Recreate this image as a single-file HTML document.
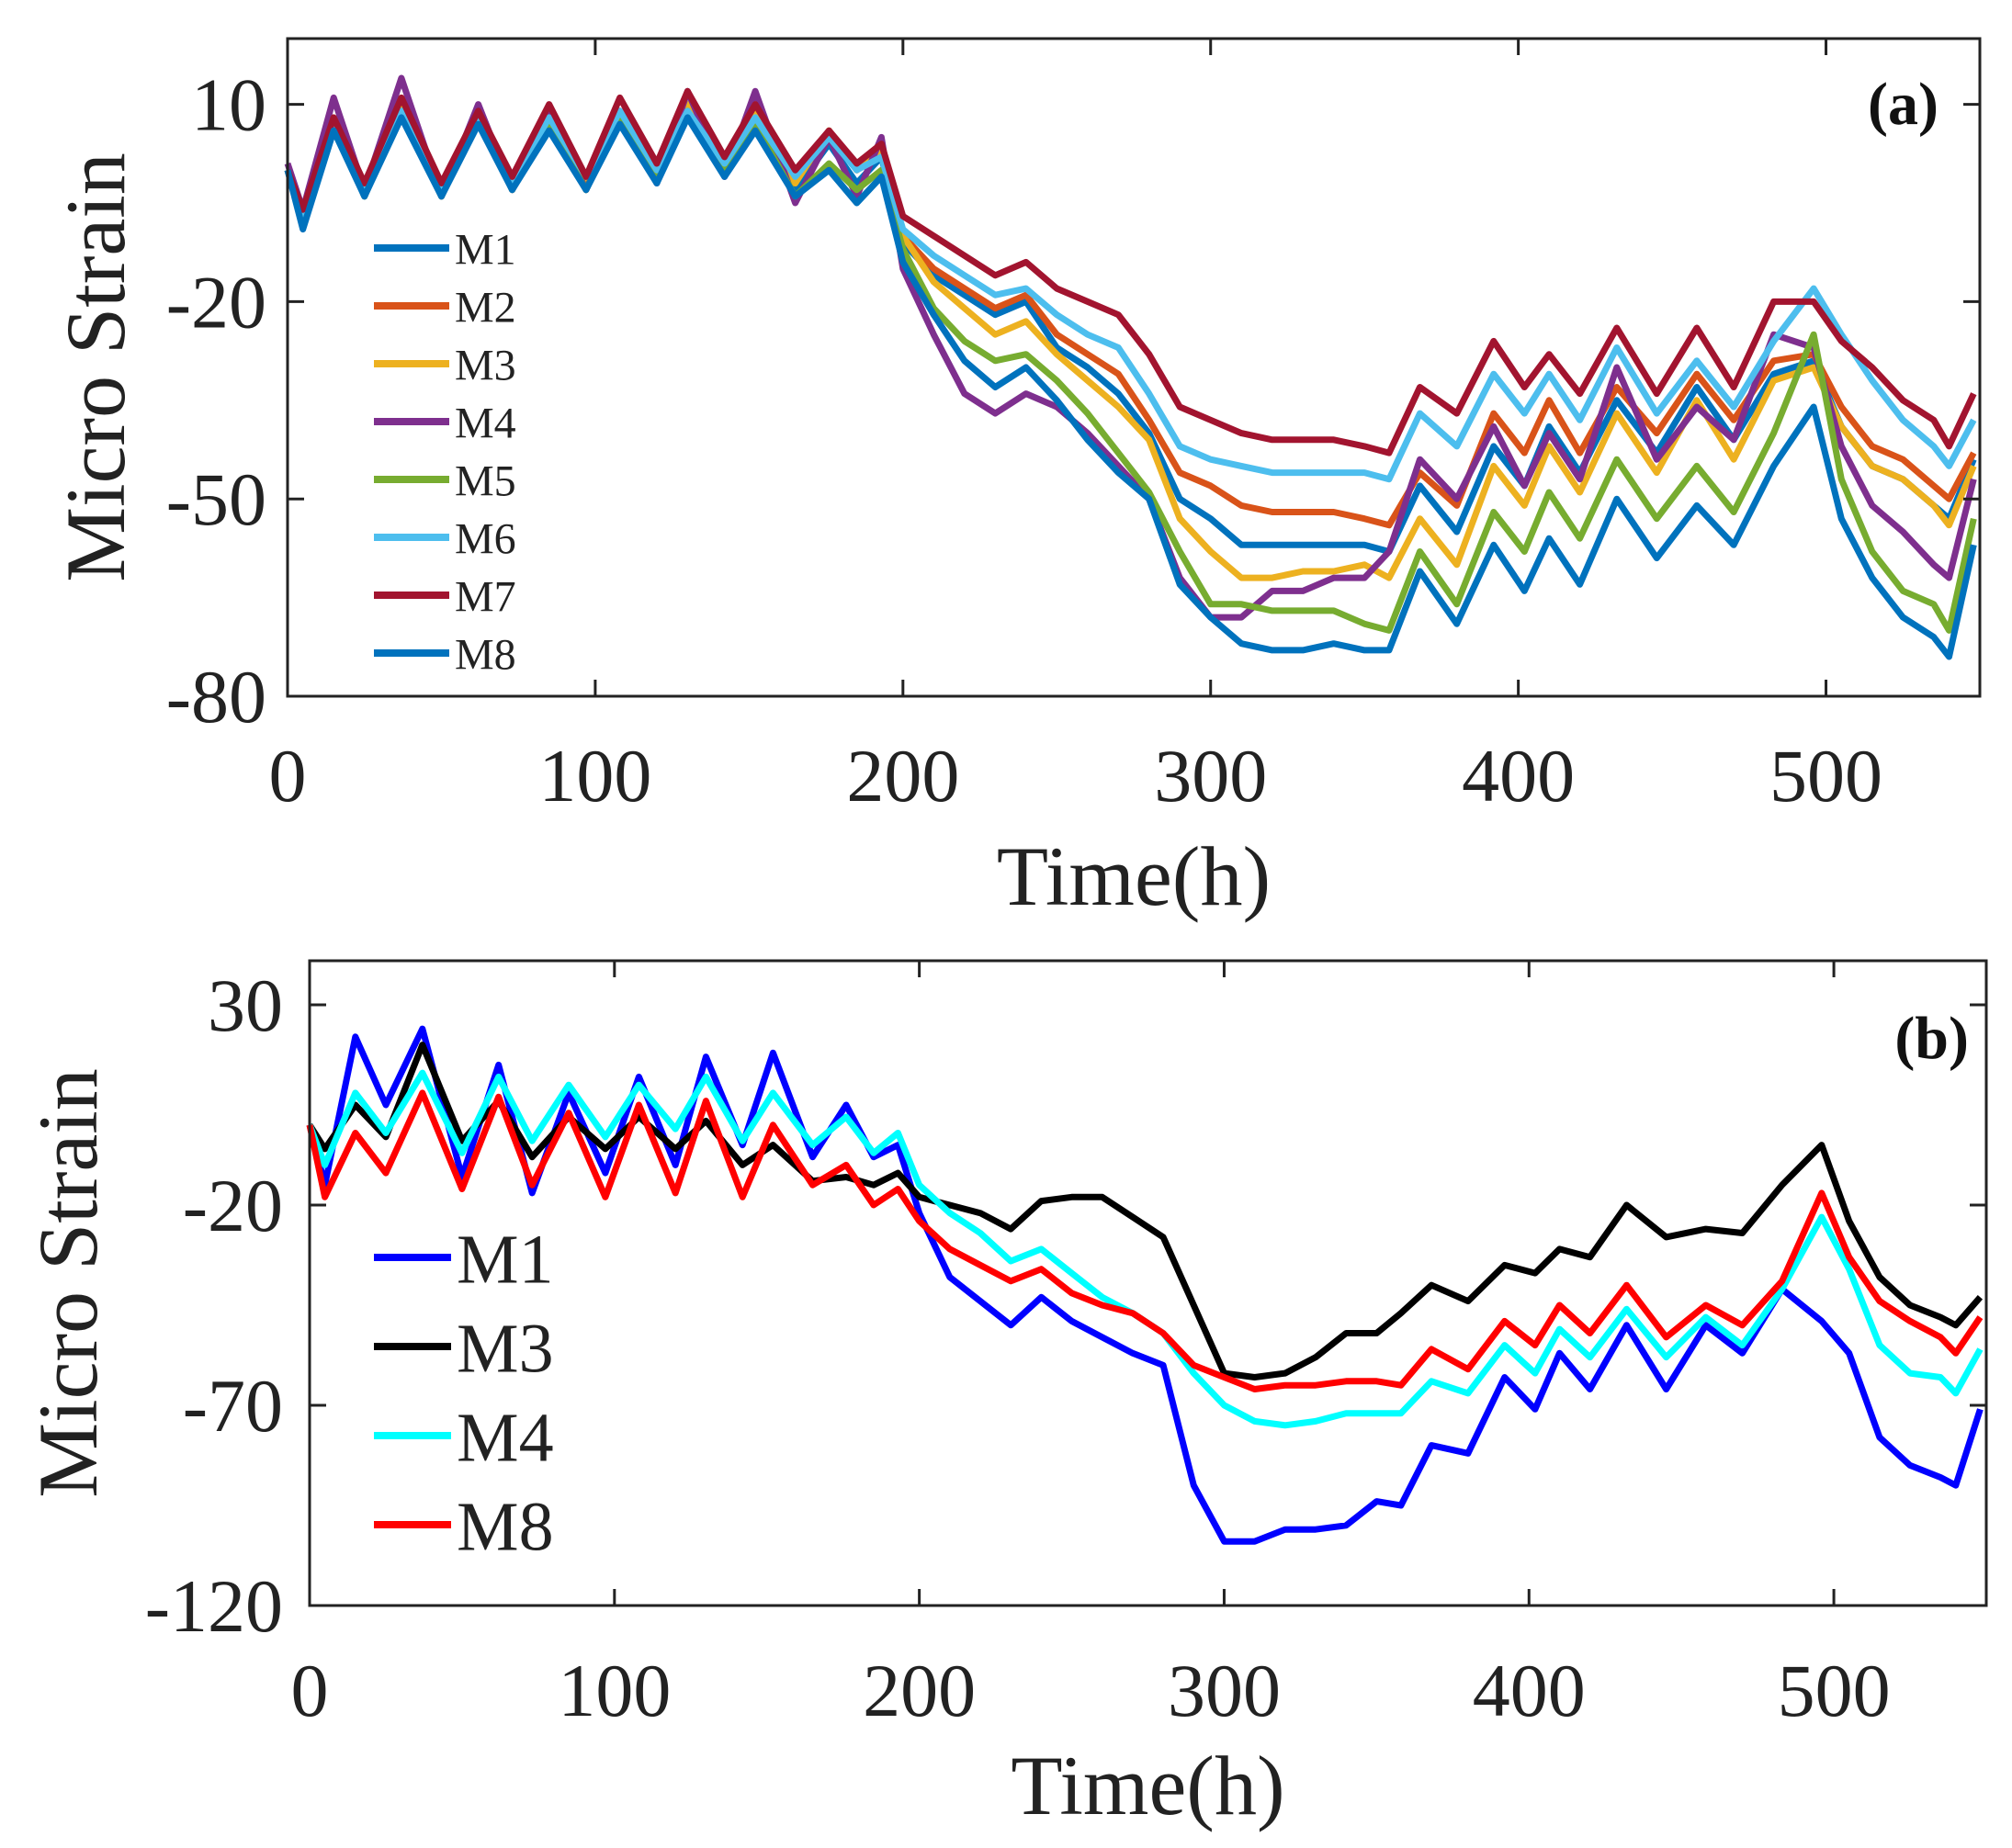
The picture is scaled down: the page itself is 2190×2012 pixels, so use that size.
<!DOCTYPE html>
<html><head><meta charset="utf-8">
<style>
html,body{margin:0;padding:0;background:#fff;}
svg{display:block;font-family:"Liberation Serif",serif;}
</style></head>
<body>
<svg id="chart" width="2190" height="2012" viewBox="0 0 2190 2012" xmlns="http://www.w3.org/2000/svg"></svg>
<script>
const times = [0,5,15,25,37,50,62,73,85,97,108,120,130,142,152,165,176,185,193,200,210,220,230,240,250,260,270,280,290,300,310,320,330,340,350,358,368,380,392,402,410,420,432,445,458,470,483,496,505,515,525,535,540,548];

// Panel (a) series
const aM1 = [0,-8,7,-4,9,-4,8,-3,7,-3,8,-1,9,0,7,-3,4,-2,2,-11,-16,-19,-22,-20,-27,-30,-34,-40,-50,-53,-57,-57,-57,-57,-57,-58,-48,-55,-42,-48,-39,-46,-35,-43,-33,-41,-31,-29,-39,-45,-47,-51,-53,-44];
const aM2 = [0,-7,7,-3,10,-3,8,-2,8,-2,9,0,10,1,9,-2,6,0,3,-10,-15,-18,-21,-19,-25,-28,-31,-38,-46,-48,-51,-52,-52,-52,-53,-54,-46,-51,-37,-43,-35,-43,-33,-40,-31,-38,-29,-28,-36,-42,-44,-48,-50,-43];
const aM3 = [0,-7,7,-3,10,-3,8,-2,8,-2,9,0,10,1,9,-2,6,0,3,-10,-17,-21,-25,-23,-28,-32,-36,-41,-53,-58,-62,-62,-61,-61,-60,-62,-53,-60,-45,-51,-42,-49,-37,-46,-35,-44,-32,-30,-39,-45,-47,-51,-54,-45];
const aM4 = [1,-6,11,-3,14,-4,10,-3,9,-3,9,-2,12,-1,12,-5,5,-4,5,-15,-25,-34,-37,-34,-36,-40,-45,-50,-62,-68,-68,-64,-64,-62,-62,-58,-44,-50,-39,-48,-40,-47,-30,-44,-36,-41,-25,-27,-42,-51,-55,-60,-62,-47];
const aM5 = [0,-8,7,-4,9,-4,8,-3,7,-3,8,-1,9,0,7,-4,1,-3,0,-12,-21,-26,-29,-28,-32,-37,-43,-49,-58,-66,-66,-67,-67,-67,-69,-70,-58,-66,-52,-58,-49,-56,-44,-53,-45,-52,-40,-25,-47,-58,-64,-66,-70,-53];
const aM6 = [0,-7,7,-3,9,-3,8,-2,8,-1,9,0,9,1,8,-1,5,0,2,-9,-13,-16,-19,-18,-22,-25,-27,-34,-42,-44,-45,-46,-46,-46,-46,-47,-37,-42,-31,-37,-31,-38,-27,-37,-29,-36,-26,-18,-25,-32,-38,-42,-45,-38];
const aM7 = [0,-6,8,-2,11,-2,9,-1,10,-1,11,1,12,2,10,0,6,1,4,-7,-10,-13,-16,-14,-18,-20,-22,-28,-36,-38,-40,-41,-41,-41,-42,-43,-33,-37,-26,-33,-28,-34,-24,-34,-24,-33,-20,-20,-26,-30,-35,-38,-42,-34];
const aM8 = [0,-9,6,-4,8,-4,7,-3,6,-3,7,-2,8,-1,6,-4,0,-5,-1,-14,-22,-29,-33,-30,-35,-41,-46,-50,-63,-68,-72,-73,-73,-72,-73,-73,-61,-69,-57,-64,-56,-63,-50,-59,-51,-57,-45,-36,-53,-62,-68,-71,-74,-57];
const aNames = ["M1","M2","M3","M4","M5","M6","M7","M8"];
const aValues = [aM1,aM2,aM3,aM4,aM5,aM6,aM7,aM8];
const aColors = ["#0072BD","#D95319","#EDB120","#7E2F8E","#77AC30","#4DBEEE","#A2142F","#0072BD"];
const aYTicks = [10,-20,-50,-80];
const xTicks = [0,100,200,300,400,500];

// Panel (b) series
const bM1 = [0,-15,22,5,24,-13,15,-17,8,-12,12,-10,17,-5,18,-8,5,-8,-5,-22,-38,-44,-50,-43,-49,-53,-57,-60,-90,-104,-104,-101,-101,-100,-94,-95,-80,-82,-63,-71,-57,-66,-50,-66,-50,-57,-41,-49,-57,-78,-85,-88,-90,-71];
const bM3 = [0,-6,5,-3,20,-4,6,-8,2,-6,2,-6,1,-10,-5,-14,-13,-15,-12,-18,-20,-22,-26,-19,-18,-18,-23,-28,-45,-62,-63,-62,-58,-52,-52,-47,-40,-44,-35,-37,-31,-33,-20,-28,-26,-27,-15,-5,-24,-38,-45,-48,-50,-43];
const bM4 = [0,-10,8,-2,13,-7,12,-4,10,-3,10,-1,12,-4,8,-5,2,-7,-2,-15,-22,-27,-34,-31,-37,-43,-47,-52,-62,-70,-74,-75,-74,-72,-72,-72,-64,-67,-55,-62,-51,-58,-46,-58,-48,-55,-41,-23,-36,-55,-62,-63,-67,-56];
const bM8 = [0,-18,-2,-12,8,-16,7,-15,3,-18,5,-17,6,-18,0,-15,-10,-20,-16,-24,-31,-35,-39,-36,-42,-45,-47,-52,-60,-63,-66,-65,-65,-64,-64,-65,-56,-61,-49,-55,-45,-52,-40,-53,-45,-50,-39,-17,-33,-44,-49,-53,-57,-48];
const bNames = ["M1","M3","M4","M8"];
const bValues = [bM1,bM3,bM4,bM8];
const bColors = ["#0000FF","#000000","#00FFFF","#FF0000"];
const bYTicks = [30,-20,-70,-120];

const NS = "http://www.w3.org/2000/svg";
const svg = document.getElementById("chart");
function mk(tag, attrs, parent){
  const e = document.createElementNS(NS, tag);
  for (const k in attrs) e.setAttribute(k, attrs[k]);
  (parent||svg).appendChild(e);
  return e;
}

function panel(cfg){
  const g = mk("g", {});
  
  
  const L=cfg.L,R=cfg.R,T=cfg.T,B=cfg.B;
  const xs = v => L + (v - 0)/(550-0)*(R-L);
  const ys = v => B - (v - cfg.ymin)/(cfg.ymax-cfg.ymin)*(B-T);
  cfg.values.forEach((vals, i) => {
    let d = "";
    vals.forEach((v, j) => { d += (j?"L":"M") + xs(times[j]).toFixed(1) + "," + ys(v).toFixed(1); });
    const p = mk("path", {d:d, fill:"none", stroke:cfg.colors[i], "stroke-width":cfg.lw, "stroke-linejoin":"round"}, g);
    
    
  });
  const fr = mk("rect", {x:L, y:T, width:R-L, height:B-T, fill:"none", stroke:"#222", "stroke-width":3}, g);
  
  
  const tl = 18;
  xTicks.forEach(t => {
    const x = xs(t);
    mk("line", {x1:x, y1:B, x2:x, y2:B-tl, stroke:"#222","stroke-width":3}, g);
    mk("line", {x1:x, y1:T, x2:x, y2:T+tl, stroke:"#222","stroke-width":3}, g);
    const tx = mk("text", {x:x, y:cfg.xlabY, "font-size":82, "text-anchor":"middle", fill:"#222"}, g);
    tx.textContent = t;
    
    
  });
  cfg.yTicks.forEach(t => {
    const y = ys(t);
    mk("line", {x1:L, y1:y, x2:L+tl, y2:y, stroke:"#222","stroke-width":3}, g);
    mk("line", {x1:R, y1:y, x2:R-tl, y2:y, stroke:"#222","stroke-width":3}, g);
    const tx = mk("text", {x:cfg.ylabX, y:y+28, "font-size":82, "text-anchor":"end", fill:"#222"}, g);
    tx.textContent = t;
    
    
  });
  const xt = mk("text", {x:(L+R)/2, y:cfg.xtitleY, "font-size":92, "text-anchor":"middle", fill:"#222"}, g);
  xt.textContent = "Time(h)";
  
  
  const yt = mk("text", {x:0, y:0, "font-size":92, "text-anchor":"middle", fill:"#222", transform:"translate("+cfg.ytitleX+","+cfg.ytitleY+") rotate(-90)"}, g);
  yt.textContent = "Micro Strain";
  
  
  const pl = mk("text", {x:cfg.tagX, y:cfg.tagY, "font-size":66, "font-weight":"bold", "text-anchor":"end", fill:"#111"}, g);
  pl.textContent = cfg.tag;
  
  
  cfg.names.forEach((n, i) => {
    const y = cfg.legY + i*cfg.legDy;
    const lg = mk("g", {}, g);
    
    
    mk("line", {x1:407, y1:y, x2:cfg.legX2, y2:y, stroke:cfg.colors[i], "stroke-width":cfg.lw+1}, lg);
    const t = mk("text", {x:cfg.legX2+6, y:y+cfg.legFs*0.36, "font-size":cfg.legFs, fill:"#222"}, lg);
    t.textContent = n;
  });
}

panel({name:"panel-a", L:313, R:2155, T:42, B:758, ymin:-80, ymax:20, yTicks:aYTicks,
  values:aValues, colors:aColors, names:aNames, lw:7,
  xlabY:872, ylabX:290, xtitleY:985, ytitleX:135, ytitleY:400,
  tag:"(a)", tagX:2110, tagY:135, legY:270, legDy:63, legX2:489, legFs:48});
panel({name:"panel-b", L:337, R:2162, T:1046, B:1748, ymin:-120, ymax:41, yTicks:bYTicks,
  values:bValues, colors:bColors, names:bNames, lw:7,
  xlabY:1868, ylabX:308, xtitleY:1975, ytitleX:105, ytitleY:1397,
  tag:"(b)", tagX:2143, tagY:1152, legY:1369, legDy:97, legX2:491, legFs:76});
</script>
</body></html>
